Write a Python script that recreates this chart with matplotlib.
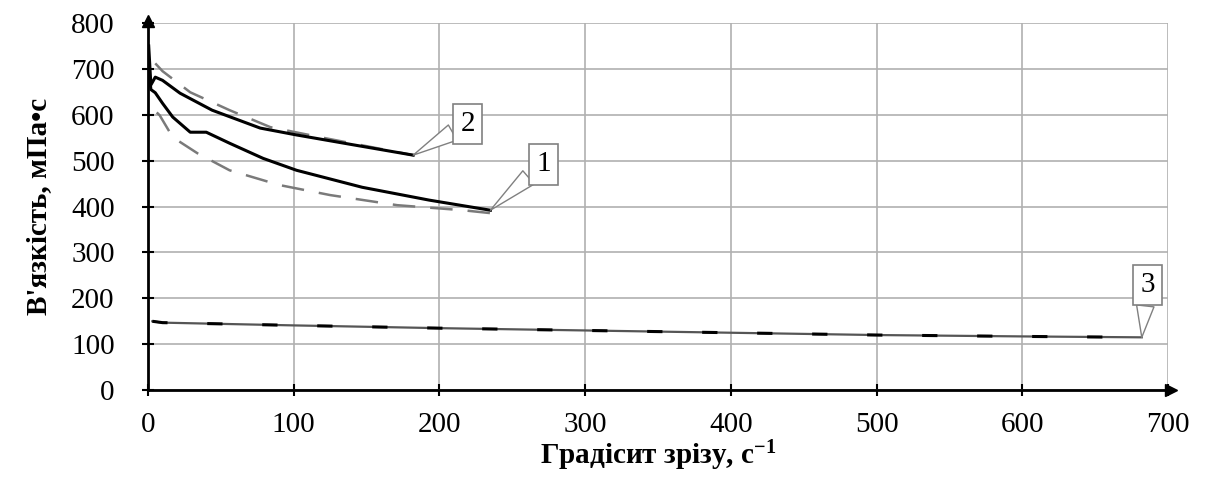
import numpy as np
import matplotlib.pyplot as plt

plt.rcParams['font.family'] = ['Liberation Serif', 'DejaVu Serif']

# curve 1 (experiment, solid) and its fit (dashed)
x1 = [0.5, 2, 5, 10, 17, 29, 40, 56, 79, 102, 147, 193, 235]
y1 = [700, 655, 648, 625, 595, 562, 562, 538, 505, 479, 442, 414, 392]
x1_fit = [6, 8, 17, 34, 56, 90, 125, 171, 216, 237]
y1_fit = [605, 599, 551, 516, 479, 447, 425, 403, 392, 385]

# curve 2
x2 = [0.5, 2, 5, 10, 22, 44, 77, 102, 140, 182]
y2 = [750, 665, 682, 675, 647, 610, 571, 556, 535, 512]
x2_fit = [5, 10, 29, 56, 84, 120, 182]
y2_fit = [712, 695, 649, 610, 573, 550, 512]

# curve 3
x3 = [3, 10, 40, 100, 200, 300, 400, 500, 600, 682]
y3 = [150, 147, 145, 141, 135, 130, 125, 120, 117, 115]

labels = ['1', '2', '3']
label_tips = [(235, 392), (182, 512), (682, 115)]
label_pos = [(271.6, 492), (219.5, 580), (686, 229)]

fig = plt.figure(figsize=(12.06, 4.84), dpi=100)
ax = fig.add_axes([0.1227, 0.194, 0.8458, 0.7585])

ax.set_xlim(0, 700)
ax.set_ylim(0, 800)
ax.set_xticks(np.arange(0, 701, 100))
ax.set_yticks(np.arange(0, 801, 100))
ax.grid(True, color='#b0b0b0', linewidth=1.2)
ax.set_axisbelow(True)

for s in ['top', 'right']:
    ax.spines[s].set_visible(False)
for s in ['left', 'bottom']:
    ax.spines[s].set_linewidth(2)
    ax.spines[s].set_color('black')
ax.tick_params(direction='inout', length=8, width=1.5, labelsize=21)
ax.tick_params(axis='x', pad=12)
ax.tick_params(axis='y', pad=20)

# axis arrows
ax.plot(0, 1.005, '^', color='black', markersize=8, transform=ax.transAxes, clip_on=False)
ax.plot(1.003, 0, '>', color='black', markersize=8, transform=ax.transAxes, clip_on=False)

dash_col = '#7a7a7a'
ax.plot(x1_fit, y1_fit, color=dash_col, lw=1.8, dashes=(9, 6))
ax.plot(x2_fit, y2_fit, color=dash_col, lw=1.8, dashes=(9, 6))
ax.plot(x1, y1, color='black', lw=2.2)
ax.plot(x2, y2, color='black', lw=2.2)
ax.plot(x3, y3, color='#555555', lw=1.6)
ax.plot(x3, y3, color='black', lw=2.2, dashes=(5, 13))

for lab, tip, pos in zip(labels, label_tips, label_pos):
    ax.annotate(lab, xy=tip, xytext=pos, fontsize=21, ha='center', va='center',
                bbox=dict(boxstyle='square,pad=0.25', fc='white', ec='#808080', lw=1.2),
                arrowprops=dict(arrowstyle='wedge,tail_width=0.6', fc='white',
                                ec='#808080', lw=1.0, shrinkA=0, shrinkB=0))

ax.set_xlabel(r'Градісит зрізу, с$\mathregular{^{-1}}$', fontsize=21, fontweight='bold', labelpad=0)
ax.set_ylabel("В'язкість, мПа•с", fontsize=21, fontweight='bold', labelpad=14)

fig.savefig('out.png', dpi=100)
